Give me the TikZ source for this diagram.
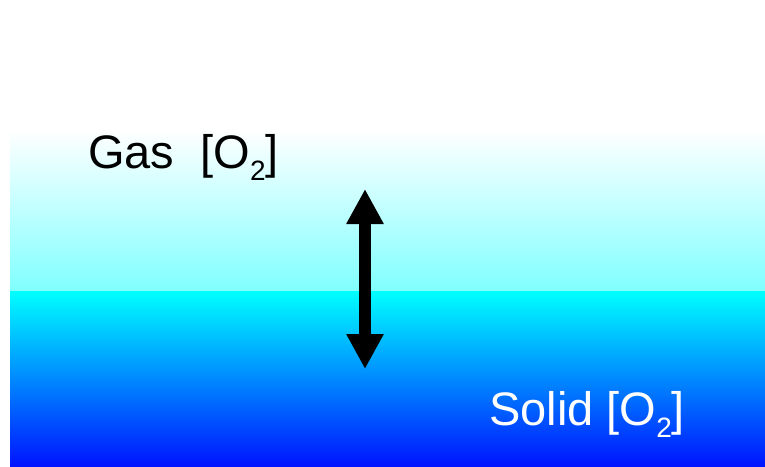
\documentclass[tikz,border=0pt]{standalone}
\usepackage{fontspec}
\setmainfont{Liberation Sans}
\usepackage{xcolor}
\usepackage{tikz}
\usetikzlibrary{positioning, arrows.meta}
\definecolor{gasTop}{HTML}{FFFFFF}
\definecolor{gasLow}{HTML}{80FFFF}
\definecolor{solidTop}{HTML}{00FFFF}
\definecolor{solidMid}{HTML}{00CCFF}
\definecolor{solidLow}{HTML}{0014FF}
\newcommand{\subtwo}{\raisebox{-12pt}{\fontsize{28}{28}\selectfont 2}}
\tikzset{
  phaselabel/.style={font=\fontsize{47}{47}\selectfont, anchor=base west, inner sep=0pt},
  exchange/.style={line width=12pt, {Triangle[width=35pt, length=35pt]}-{Triangle[width=35pt, length=35pt]}}
}

\begin{document}
\begin{tikzpicture}[x=1pt, y=-1pt]
        \useasboundingbox (0, 0) rectangle (765, 466);
        \fill[white] (0, 0) rectangle (765, 466);
        % gas layer
        \shade[top color=gasTop, bottom color=gasLow] (10, 130) rectangle (765, 291);
        % solid layer
        \shade[top color=solidTop, middle color=solidMid, bottom color=solidLow] (10, 291) rectangle (765, 466);
        \node[phaselabel, text=black] (gas) at (88, 168) {Gas\ \ [O\subtwo]};
        \node[phaselabel, text=white] (solid) at (489, 425) {Solid [O\subtwo]};
        \coordinate (upper) at (365, 189);
        \coordinate (lower) at (365, 369);
        \draw[exchange] (upper) -- (lower);
      \end{tikzpicture}
\end{document}
